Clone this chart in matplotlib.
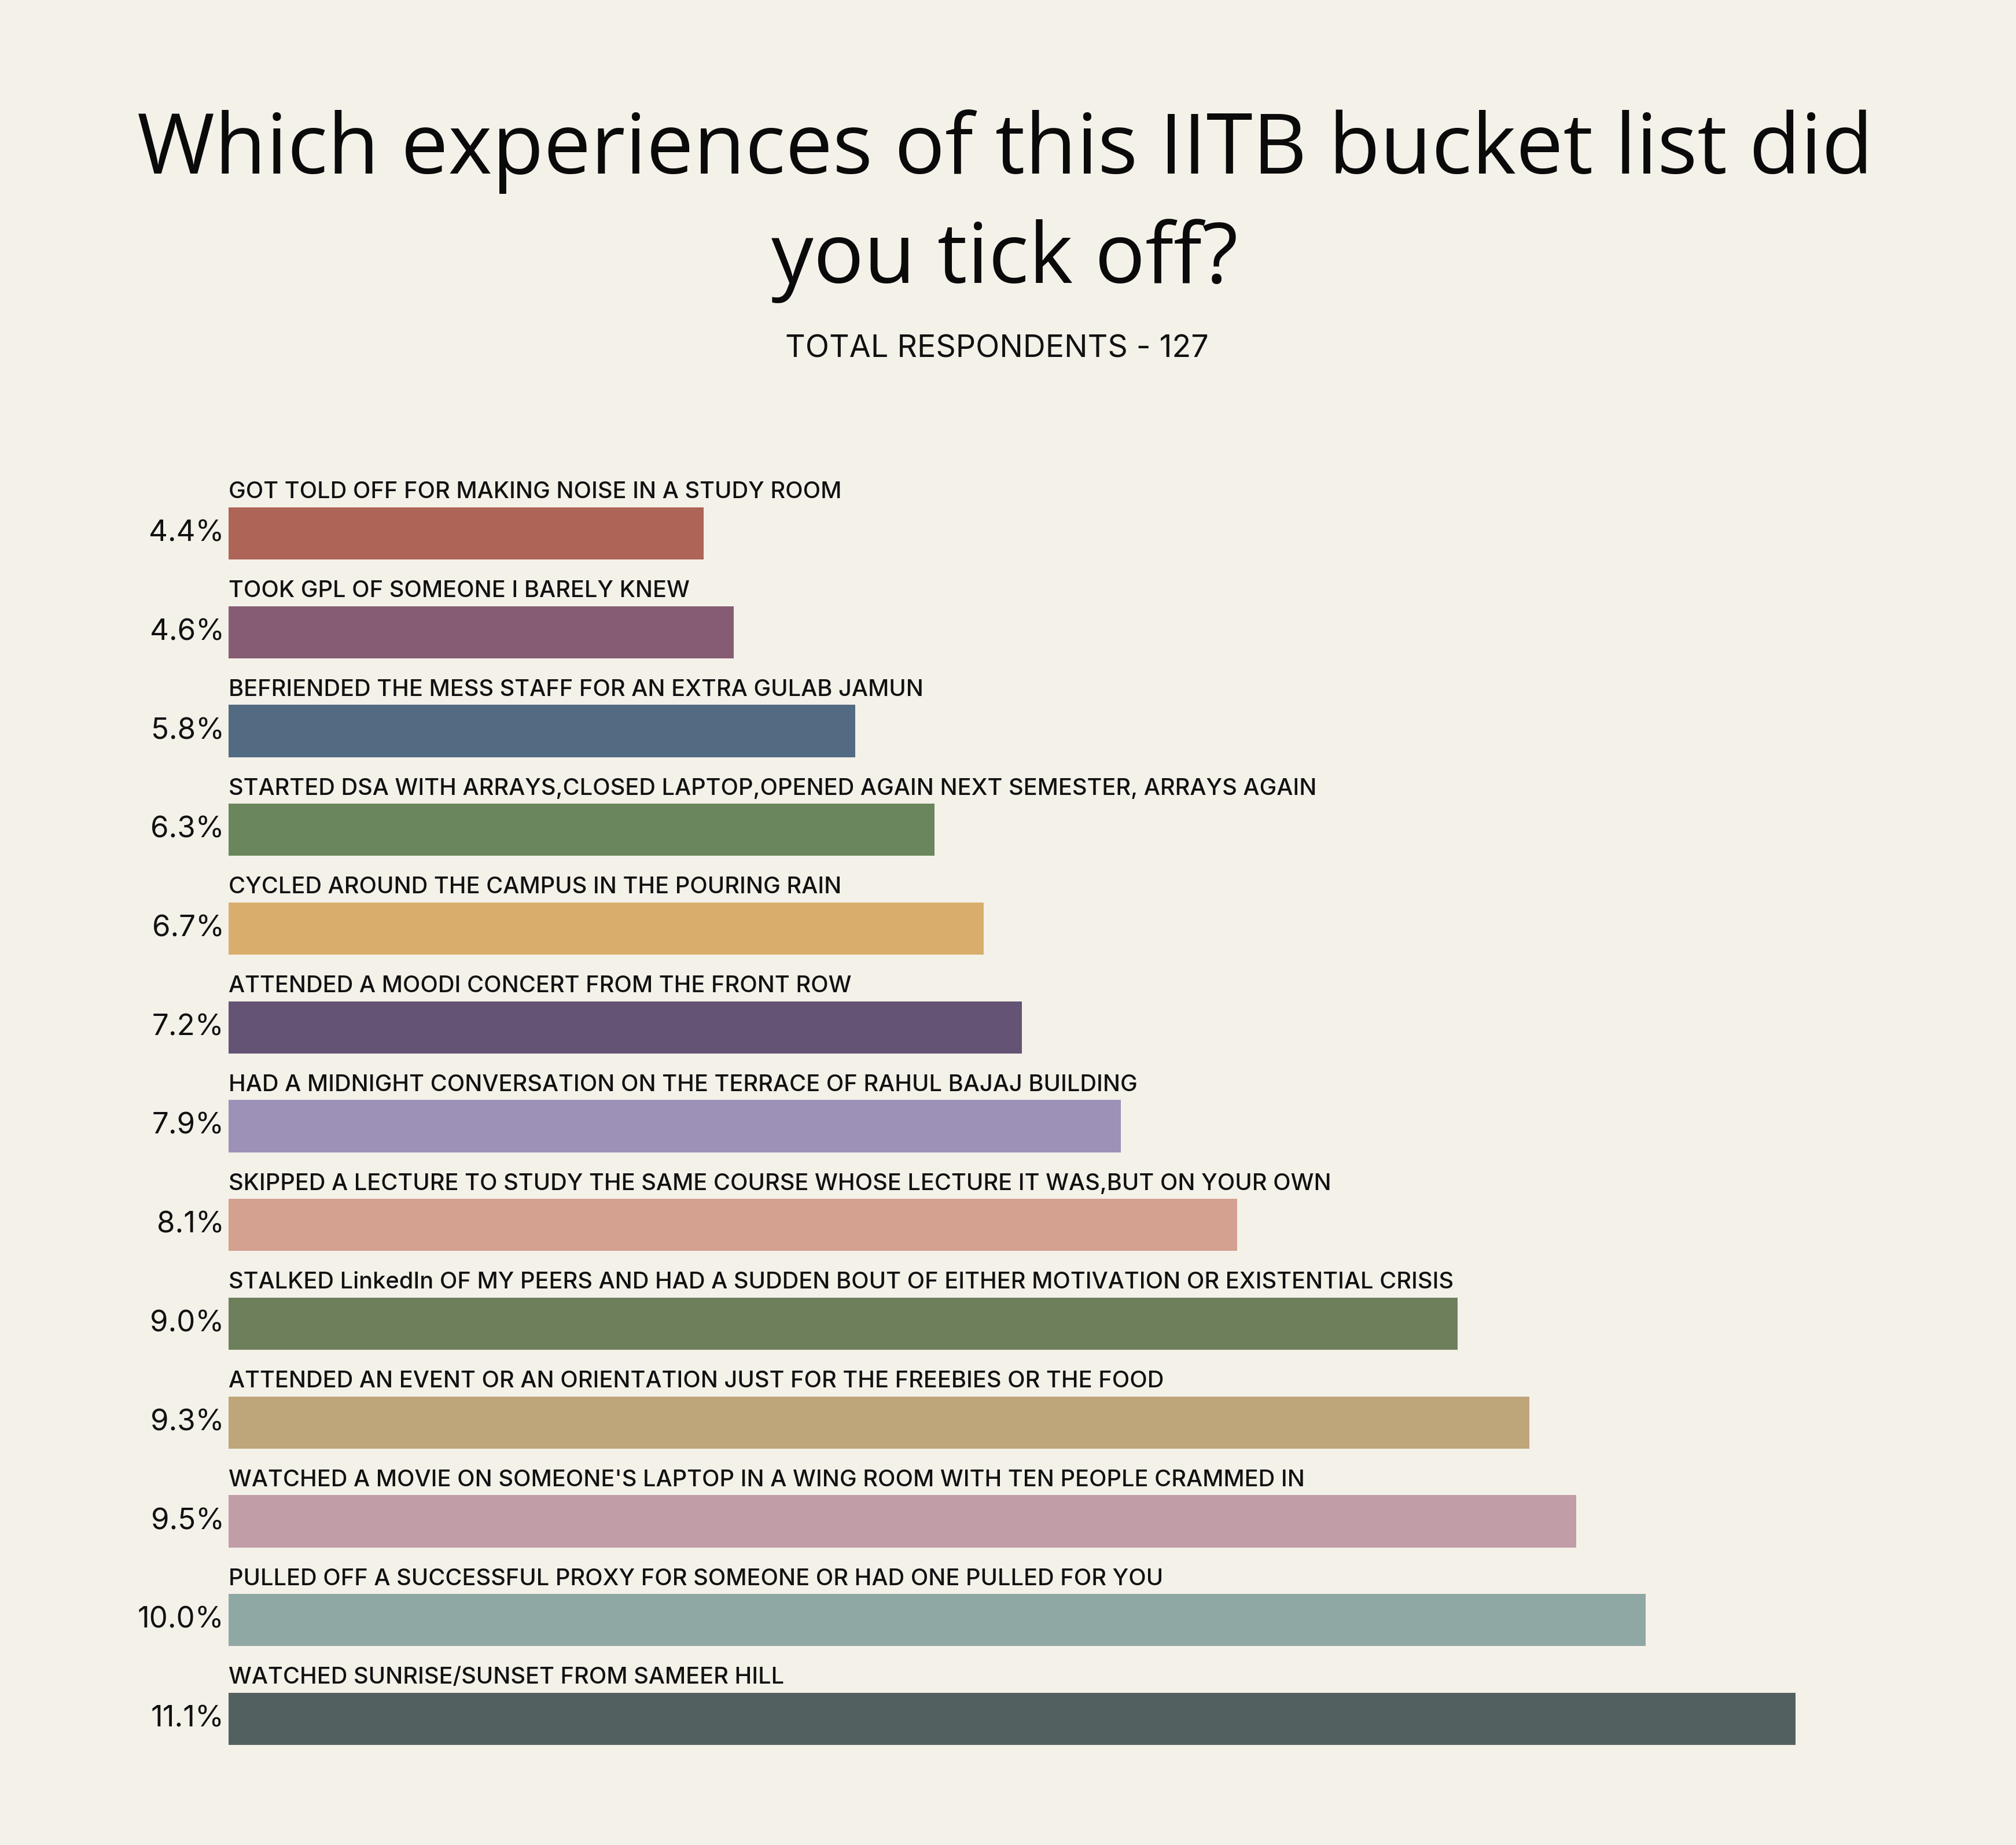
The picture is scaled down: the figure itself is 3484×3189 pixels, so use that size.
import matplotlib.pyplot as plt

categories = [
    "GOT TOLD OFF FOR MAKING NOISE IN A STUDY ROOM",
    "TOOK GPL OF SOMEONE I BARELY KNEW",
    "BEFRIENDED THE MESS STAFF FOR AN EXTRA GULAB JAMUN",
    "STARTED DSA WITH ARRAYS,CLOSED LAPTOP,OPENED AGAIN NEXT SEMESTER, ARRAYS AGAIN",
    "CYCLED AROUND THE CAMPUS IN THE POURING RAIN",
    "ATTENDED A MOODI CONCERT FROM THE FRONT ROW",
    "HAD A MIDNIGHT CONVERSATION ON THE TERRACE OF RAHUL BAJAJ BUILDING",
    "SKIPPED A LECTURE TO STUDY THE SAME COURSE WHOSE LECTURE IT WAS,BUT ON YOUR OWN",
    "STALKED LinkedIn OF MY PEERS AND HAD A SUDDEN BOUT OF EITHER MOTIVATION OR EXISTENTIAL CRISIS",
    "ATTENDED AN EVENT OR AN ORIENTATION JUST FOR THE FREEBIES OR THE FOOD",
    "WATCHED A MOVIE ON SOMEONE'S LAPTOP IN A WING ROOM WITH TEN PEOPLE CRAMMED IN",
    "PULLED OFF A SUCCESSFUL PROXY FOR SOMEONE OR HAD ONE PULLED FOR YOU",
    "WATCHED SUNRISE/SUNSET FROM SAMEER HILL",
]
pct_labels = ["4.4%", "4.6%", "5.8%", "6.3%", "6.7%", "7.2%", "7.9%",
              "8.1%", "9.0%", "9.3%", "9.5%", "10.0%", "11.1%"]
# bar lengths as drawn in the picture (not exactly proportional to the labels)
bar_lengths = [3.36, 3.57, 4.43, 4.99, 5.34, 5.61, 6.31, 7.13, 8.69, 9.20, 9.53, 10.02, 11.08]
colors = ["#AE6457", "#855C74", "#536A83", "#6A865C", "#D9AE6C", "#645375", "#9E91B8",
          "#D4A090", "#6E7F5C", "#BFA57A", "#C09DA7", "#8FA8A3", "#526160"]

bg = "#F4F1E9"
W, H = 3484, 3189
fig = plt.figure(figsize=(W / 100, H / 100), dpi=100, facecolor=bg)

# axes placed in pixel terms
px_per_unit = 244.4
ax_left, ax_w = 395, 2900
row_h = 170.75
ax_top = 922 - row_h / 2
ax_h = row_h * len(categories)
ax = fig.add_axes([ax_left / W, 1 - (ax_top + ax_h) / H, ax_w / W, ax_h / H])
ax.set_facecolor(bg)
ax.set_xlim(0, ax_w / px_per_unit)
ax.set_ylim(len(categories) - 0.5, -0.5)
ax.set_axis_off()

ys = list(range(len(categories)))
bar_h = 0.53
ax.barh(ys, bar_lengths, height=bar_h, color=colors, left=0)

for y, cat, lab in zip(ys, categories, pct_labels):
    ax.text(0, y - bar_h / 2 - 0.09, cat, ha='left', va='baseline',
            fontsize=28.6, family='Inter', fontweight='medium', color='#111111')
    ax.text(-0.03, y, lab, ha='right', va='center',
            fontsize=36.7, family='Inter', color='#111111')

fig.text(0.4985, 1 - 300 / H, "Which experiences of this IITB bucket list did",
         ha='center', va='baseline', fontsize=104.5, family='Open Sans', color='#0a0a0a')
fig.text(0.4985, 1 - 489 / H, "you tick off?",
         ha='center', va='baseline', fontsize=104.5, family='Open Sans', color='#0a0a0a')
fig.text(0.4945, 1 - 618 / H, "TOTAL RESPONDENTS - 127",
         ha='center', va='baseline', fontsize=38.7, family='Inter', color='#111111')

fig.savefig("out.png", dpi=100, facecolor=bg)
